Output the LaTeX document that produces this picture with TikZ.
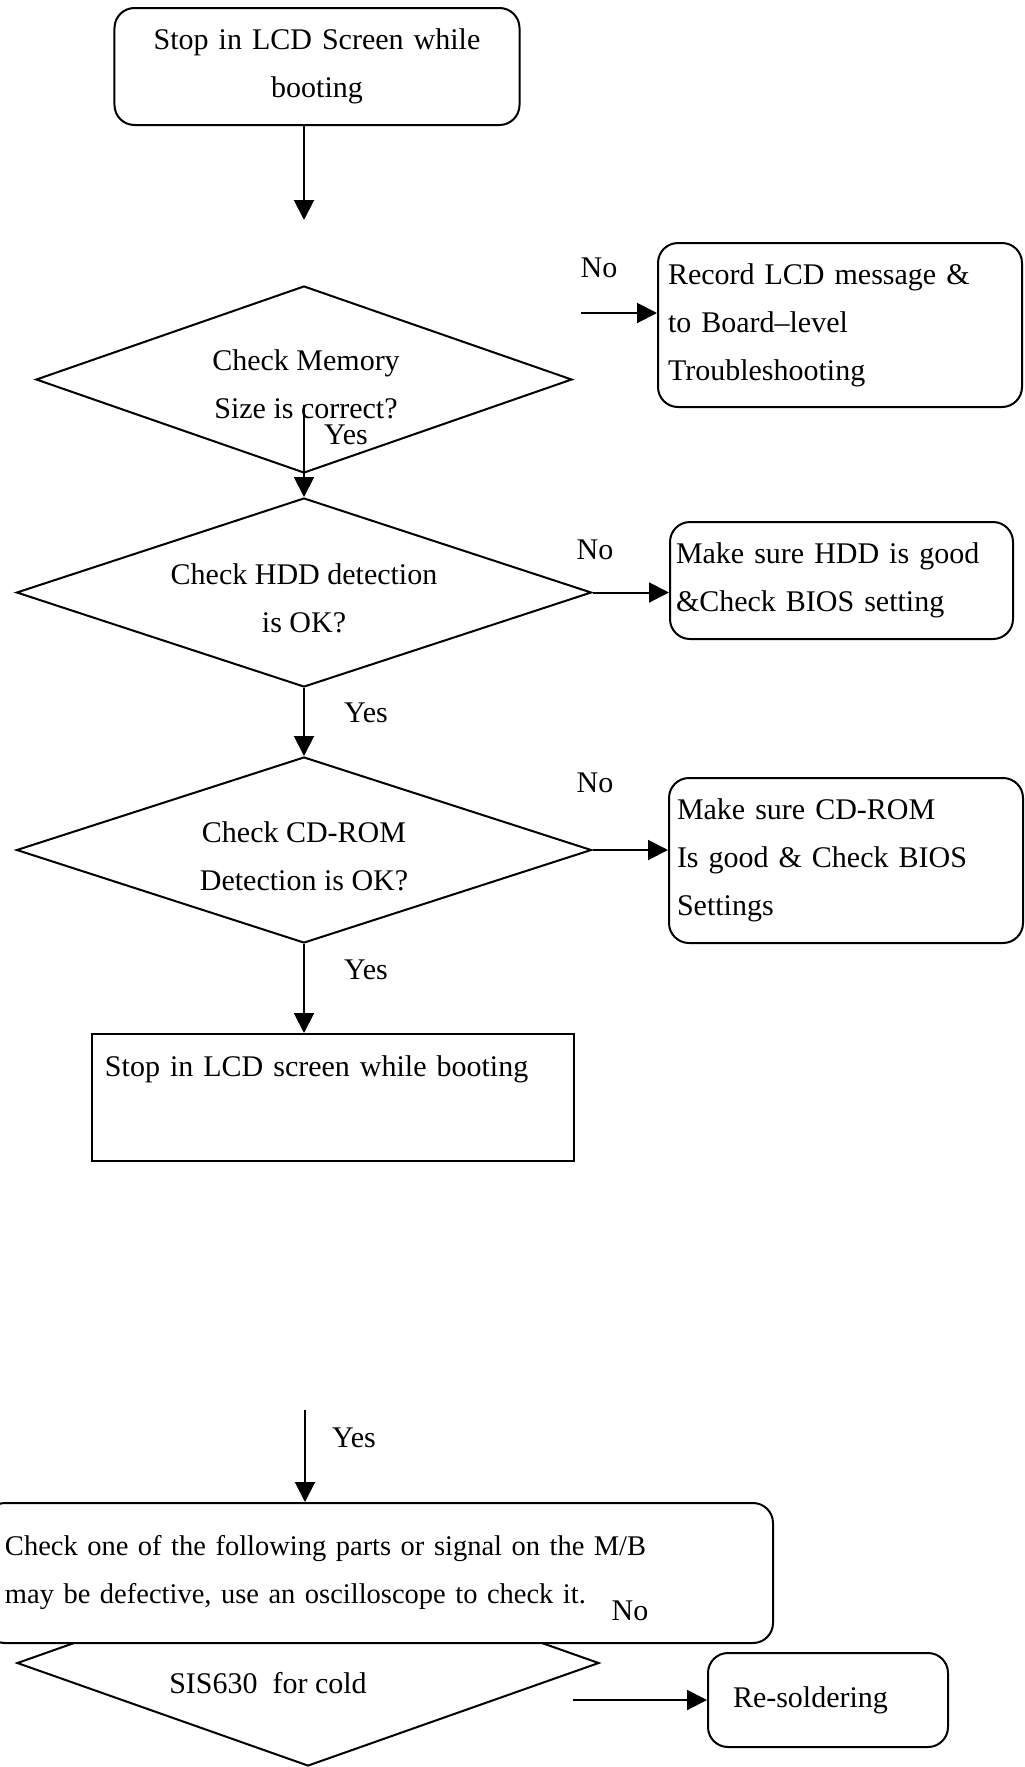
\documentclass[tikz,border=0pt]{standalone}
\usepackage{fontspec}
\setmainfont{Liberation Serif}
\usetikzlibrary{arrows.meta, shapes.geometric}

\begin{document}
\begin{tikzpicture}[x=0.4pt, y=-0.4pt, >={Triangle[length=8pt, width=8pt]}, line width=0.8pt,
    font=\fontsize{12}{19.2}\selectfont,
    roundbox/.style={draw, rounded corners=8pt, fill=white, align=left},
    plainbox/.style={draw, fill=white, align=left},
    decision/.style={draw, diamond, inner sep=0pt, fill=white},
    txt/.style={align=center, inner sep=0pt}]

    % page size
    \useasboundingbox (0,0) rectangle (1025,1767);

    % start box
    \node[roundbox, align=center, text width=154pt, inner xsep=4pt, minimum height=46.8pt] (start) at (317,66.5)
        {Stop in LCD Screen while\\booting};

    % decisions
    \node[decision, minimum width=214.4pt, minimum height=74.8pt] (mem) at (304,379.5) {};
    \node[txt] (memtxt) at (306,384) {Check Memory\\Size is correct?};
    \node[decision, minimum width=230pt, minimum height=75.6pt] (hdd) at (304,592.5) {};
    \node[txt] (hddtxt) at (304,598) {Check HDD detection\\is OK?};
    \node[decision, minimum width=230pt, minimum height=74.4pt] (cd) at (304,850) {};
    \node[txt] (cdtxt) at (304,856) {Check CD-ROM\\Detection is OK?};
    \node[decision, minimum width=232.8pt, minimum height=82.4pt] (cold) at (308,1663) {};
    \node[txt] (coldtxt) at (268,1683) {SIS630~~for cold};

    % boxes on the right
    \node[roundbox, text width=137.6pt, inner xsep=4pt, minimum height=65.6pt] (record) at (840,325)
        {Record LCD message \&\\to Board--level\\Troubleshooting};
    \node[roundbox, text width=132.4pt, inner xsep=2.4pt, minimum height=46.8pt] (hddbox) at (841.5,580.5)
        {Make sure HDD is good\\\&Check BIOS setting};
    \node[roundbox, text width=135.2pt, inner xsep=3.2pt, minimum height=66pt] (cdbox) at (846,860.5)
        {Make sure CD-ROM\\Is good \& Check BIOS\\Settings};
    \node[roundbox, text width=76pt, inner xsep=10pt, minimum height=37.6pt] (resold) at (828,1700)
        {Re-soldering};

    % boxes in the middle column
    \node[plainbox, text width=182.4pt, inner xsep=5.2pt, minimum height=50.8pt] (stop) at (333,1097.5)
        {Stop in LCD screen while booting\\\strut};
    \node[roundbox, text width=299.2pt, inner xsep=8pt, minimum height=56pt,
          font=\fontsize{11.4}{19.2}\selectfont] (mb) at (379,1573)
        {Check one of the following parts or signal on the M/B\\may be defective, use an oscilloscope to check it.};

    % free ends of connectors
    \coordinate (topend) at (304,220);
    \coordinate (memout) at (304,405);
    \coordinate (memno) at (581,313);
    \coordinate (yestop) at (305,1410);
    \coordinate (coldno) at (573,1700);

    % main flow
    \draw[->] (start.south -| topend) -- (topend);
    \draw[->] (memout) -- (hdd.north);
    \draw[->] (hdd.south) -- (cd.north);
    \draw[->] (cd.south) -- (cd.south |- stop.north);
    \draw[->] (yestop) -- (yestop |- mb.north);

    % side branches
    \draw[->] (memno) -- (memno -| record.west);
    \draw[->] (hdd.east) -- (hdd.east -| hddbox.west);
    \draw[->] (cd.east) -- (cd.east -| cdbox.west);
    \draw[->] (coldno) -- (resold.west);

    % labels
    \node[txt] (no1) at (599,268) {No};
    \node[txt] (yes1) at (346,435) {Yes};
    \node[txt] (no2) at (595,550) {No};
    \node[txt] (yes2) at (366,713) {Yes};
    \node[txt] (no3) at (595,783) {No};
    \node[txt] (yes3) at (366,970) {Yes};
    \node[txt] (yes4) at (354,1438) {Yes};
    \node[txt] (no4) at (630,1611) {No};

\end{tikzpicture}
\end{document}
